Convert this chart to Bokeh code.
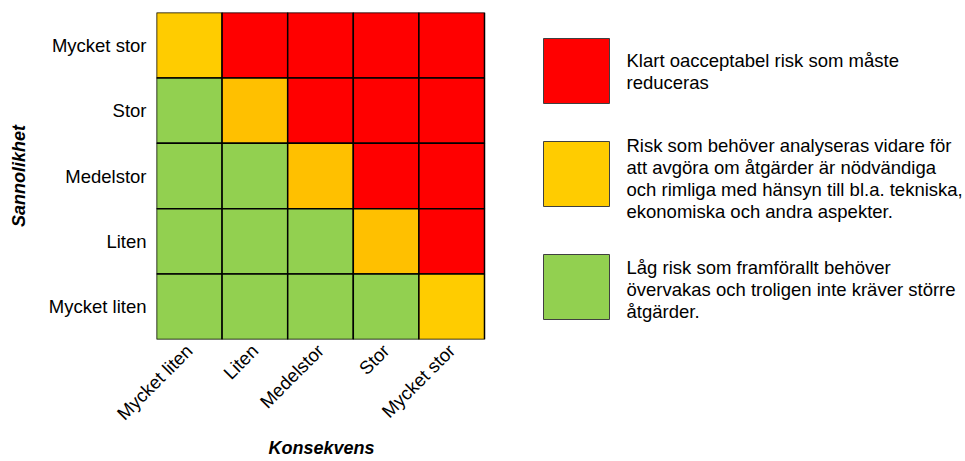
import math
from bokeh.plotting import figure
from bokeh.models import Range1d, ColumnDataSource, FixedTicker, Title
from bokeh.embed import file_html
from bokeh.resources import INLINE
from bokeh.core.properties import value

# ---- data ----
consequences = ["Mycket liten", "Liten", "Medelstor", "Stor", "Mycket stor"]
probabilities = ["Mycket liten", "Liten", "Medelstor", "Stor", "Mycket stor"]

# risk class per probability row (columns follow `consequences`)
risk_mycket_stor = ["gul", "röd", "röd", "röd", "röd"]
risk_stor = ["grön", "orange", "röd", "röd", "röd"]
risk_medelstor = ["grön", "grön", "orange", "röd", "röd"]
risk_liten = ["grön", "grön", "grön", "orange", "röd"]
risk_mycket_liten = ["grön", "grön", "grön", "grön", "gul"]

risk_colors = {"röd": "#FF0000", "orange": "#FFC000", "gul": "#FFCC00", "grön": "#92D050"}

legend_labels = [
    "Klart oacceptabel risk som måste\nreduceras",
    "Risk som behöver analyseras vidare för\natt avgöra om åtgärder är nödvändiga\noch rimliga med hänsyn till bl.a. tekniska,\nekonomiska och andra aspekter.",
    "Låg risk som framförallt behöver\növervakas och troligen inte kräver större\nåtgärder.",
]
legend_colors = ["#FF0000", "#FFCC00", "#92D050"]

# ---- build heatmap table ----
rows = {
    "Mycket stor": risk_mycket_stor,
    "Stor": risk_stor,
    "Medelstor": risk_medelstor,
    "Liten": risk_liten,
    "Mycket liten": risk_mycket_liten,
}
xs, ys, cs = [], [], []
for prob, levels in rows.items():
    for cons, lvl in zip(consequences, levels):
        xs.append(consequences.index(cons) + 0.5)
        ys.append(probabilities.index(prob) + 0.5)
        cs.append(risk_colors[lvl])
src = ColumnDataSource(dict(x=xs, y=ys, color=cs))

# ---- layout (pixels) ----
FONT = "Liberation Sans"
LABEL_SIZE = "18.5px"
W, H = 965, 461
BL, BT = 156, 12                  # borders
GRID_W, GRID_H = 328, 327         # heatmap size in px
BB = H - BT - GRID_H
FRAME_W = W - BL
FRAME_H = H - BT - BB
PX_X = GRID_W / len(consequences)  # px per x unit
PX_Y = GRID_H / len(probabilities)
x_end = FRAME_W / PX_X
y_start = 5 - FRAME_H / PX_Y


def px2x(px):      # figure-x pixel -> data x
    return (px - BL) / PX_X


def px2y(py):      # figure-y pixel (from top) -> data y
    return 5 - (py - BT) / PX_Y


p = figure(
    width=W, height=H,
    x_range=Range1d(0, x_end), y_range=Range1d(y_start, 5),
    output_backend="svg", toolbar_location=None,
    min_border_left=BL, min_border_right=0, min_border_top=BT, min_border_bottom=BB,
)
p.rect(x="x", y="y", width=1, height=1, source=src, fill_color="color",
       line_color="black", line_width=1.5)
p.outline_line_color = None
p.grid.grid_line_color = None

ticks = [i + 0.5 for i in range(5)]
p.xaxis.ticker = FixedTicker(ticks=ticks)
p.yaxis.ticker = FixedTicker(ticks=ticks)
p.xaxis.major_label_overrides = {t: c for t, c in zip(ticks, consequences)}
p.yaxis.major_label_overrides = {t: c for t, c in zip(ticks, probabilities)}

for ax in (p.xaxis[0], p.yaxis[0]):
    ax.axis_line_color = None
    ax.major_tick_line_color = None
    ax.minor_tick_line_color = None
    ax.major_tick_out = 0
    ax.major_tick_in = 0
    ax.major_label_text_font = FONT
    ax.major_label_text_font_size = LABEL_SIZE
    ax.major_label_text_color = "black"
    ax.axis_label_text_font = FONT
    ax.axis_label_text_font_size = "18px"
    ax.axis_label_text_font_style = "bold italic"
    ax.axis_label_text_color = "black"

p.yaxis.axis_label = "Sannolikhet"
p.yaxis.major_label_standoff = 10
p.yaxis.axis_label_standoff = 17

p.xaxis.major_label_orientation = math.pi / 4
p.xaxis.major_label_standoff = 8

# x-axis title, centred under the grid
TITLE_HALF_W = 52
p.add_layout(Title(text="Konsekvens", align="left", offset=GRID_W / 2 - TITLE_HALF_W,
                   text_font=FONT, text_font_size="18px", text_font_style="bold italic",
                   text_color="black", standoff=2), "below")

# ---- legend ----
box_y_px = [70.5, 173.5, 286.5]
text_y_px = [71, 178, 289]
lsrc = ColumnDataSource(dict(
    bx=[px2x(576)] * 3, by=[px2y(v) for v in box_y_px],
    tx=[px2x(626)] * 3, ty=[px2y(v) for v in text_y_px],
    color=legend_colors, label=legend_labels,
))
p.rect(x="bx", y="by", width=66 / PX_X, height=65 / PX_Y, source=lsrc,
       fill_color="color", line_color="#404040", line_width=1)
p.text(x="tx", y="ty", text="label", source=lsrc, text_align="left",
       text_baseline="middle", text_font=value(FONT), text_font_size=LABEL_SIZE,
       text_color="black", text_line_height=1.05)

open("out.html", "w").write(file_html(p, INLINE))
